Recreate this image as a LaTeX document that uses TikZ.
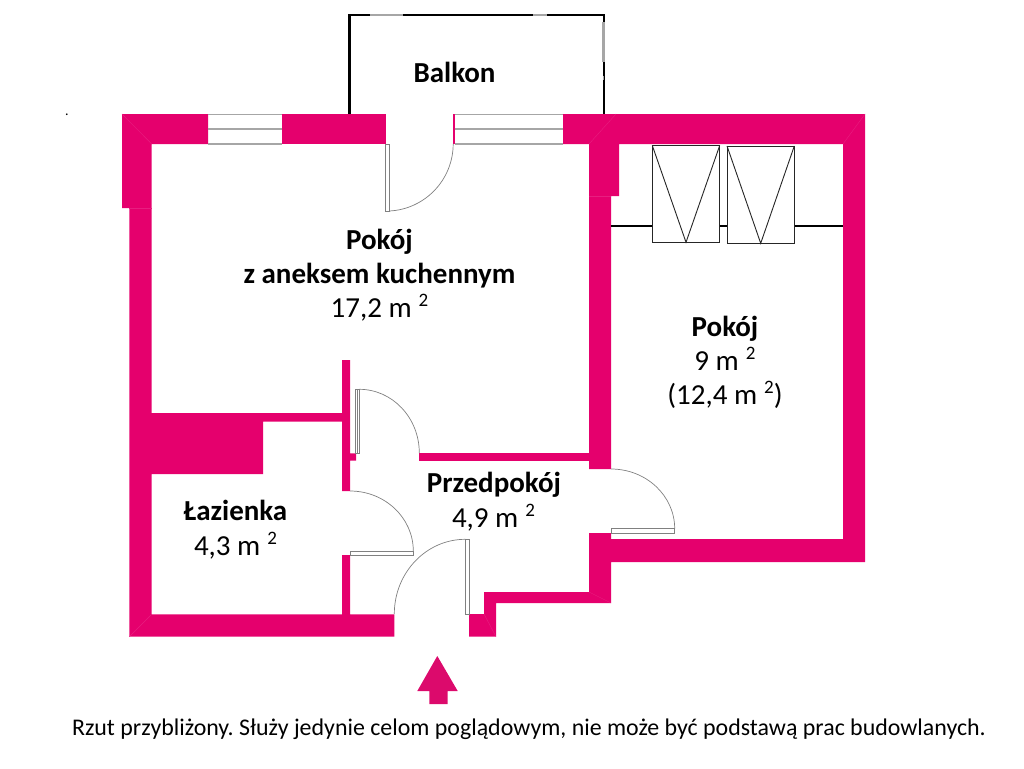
\documentclass[tikz,border=0pt]{standalone}
\usepackage{fontspec}
\setmainfont{Carlito}
\frenchspacing
\definecolor{wallpink}{HTML}{E5006D}
\definecolor{arrowpink}{HTML}{DC0A6C}
\definecolor{mitre}{HTML}{E81E80}
\definecolor{wingray}{HTML}{A6A6A6}
\definecolor{doorgray}{HTML}{808080}
\newcommand{\sqm}{\hspace{7pt}\raisebox{10.5pt}{\fontsize{19}{21}\selectfont 2}}
\newcommand{\lbl}{\fontsize{29}{33}\selectfont}
\tikzset{
  x=1pt,y=-1pt,
  wall/.style={fill=wallpink,draw=none},
  mitreline/.style={draw=mitre,line width=0.4pt},
  winline/.style={draw=wingray,line width=1.4pt},
  doorline/.style={draw=doorgray,line width=0.7pt,fill=white},
  balc/.style={draw=black,line width=2.4pt},
  balcgap/.style={draw=wingray,line width=2.4pt},
  fitted/.style={draw=black!85,line width=0.9pt,fill=white},
  roomname/.style={font=\lbl\bfseries,inner sep=0pt,anchor=base},
  roomarea/.style={font=\lbl,inner sep=0pt,anchor=base},
}
\begin{document}
\begin{tikzpicture}
\useasboundingbox (0,0) rectangle (1024,768);
% balcony
\draw[balc] (349.5,114) -- (349.5,15) -- (604,15) -- (604,114);
\draw[balcgap] (370,15) -- (403,15);
\draw[balcgap] (533,15) -- (547,15);
\draw[balcgap] (603.5,22) -- (603.5,62);
\draw[draw=wingray,line width=1pt] (603.5,76) -- (603.5,80);
% top wall and left wall
\fill[wall] (122,114) -- (208,114) -- (208,144) -- (151.7,144) -- (151.7,413) -- (342,413) -- (342,360) -- (350,360)
  -- (350,453.3) -- (356,453.3) -- (356,460.7) -- (350,460.7) -- (350,491) -- (342,491) -- (342,421.7) -- (263,421.7)
  -- (263,474) -- (151.7,474) -- (151.7,614.3) -- (342,614.3) -- (342,555) -- (350,555) -- (350,614.3) -- (394.3,614.3)
  -- (394.3,636.7) -- (129.3,636.7) -- (129.3,208) -- (122,208) -- cycle;
\fill[wall] (282,114) rectangle (385.7,144);
\fill[wall] (453,114) rectangle (454.5,144);
\fill[wall] (563,114) -- (865,114) -- (865,562) -- (611,562) -- (611,603) -- (496,603) -- (496,636.7) -- (469,636.7)
  -- (469,614) -- (484,614) -- (484,592) -- (589,592) -- (589,533) -- (611,533) -- (611,539) -- (843,539) -- (843,144)
  -- (619,144) -- (619,196) -- (611,196) -- (611,469) -- (589,469) -- (589,144) -- (563,144) -- cycle;
\fill[wall] (419.3,453.3) rectangle (589,460.7);
% mitres
\draw[mitreline] (122,114) -- (151.7,144);
\draw[mitreline] (865,114) -- (843,144);
\draw[mitreline] (616,114) -- (589,144);
\draw[mitreline] (129.3,636.7) -- (151.7,614.3);
\draw[mitreline] (496,636.7) -- (484,614);
\draw[mitreline] (611,603) -- (589,592);
\draw[mitreline] (129.3,208) -- (151.7,208);
\draw[mitreline] (589,196) -- (611,196);
% windows
\foreach \xa/\xb in {208/282,454.5/563}{
  \draw[winline] (\xa,114.5) -- (\xb,114.5);
  \draw[winline] (\xa,129) -- (\xb,129);
  \draw[winline] (\xa,144) -- (\xb,144);
}
% wardrobes
\draw[draw=black,line width=1.1pt] (611,226) -- (843,226);
\draw[fitted] (652.3,145.5) rectangle (719.7,242.3);
\draw[fitted,fill=none] (652.3,145.5) -- (686,242.3) -- (719.7,145.5);
\draw[fitted] (727,146) rectangle (794.3,243.3);
\draw[fitted,fill=none] (727,146) -- (760.7,243.3) -- (794.3,146);
% doors
\draw[doorline] (385.7,144) rectangle (389.5,211);
\draw[doorline,fill=none] (389.5,211) arc[start angle=87,end angle=0,radius=67.2];
\draw[doorline] (355.3,389.3) rectangle (359.3,453);
\draw[doorline,fill=none] (357.3,389.3) -- (357.3,453);
\draw[doorline,fill=none] (359.3,389.3) arc[start angle=-90,end angle=0,x radius=60,y radius=63.7];
\draw[doorline] (350,551) rectangle (413.3,555);
\draw[doorline,fill=none] (350,491) arc[start angle=-90,end angle=0,x radius=63.3,y radius=60];
\draw[doorline] (465.3,539.3) rectangle (469,614);
\draw[doorline,fill=none] (465.3,539.3) arc[start angle=-90,end angle=-180,x radius=71,y radius=74.7];
\draw[doorline] (611,528.7) rectangle (674.7,533);
\draw[doorline,fill=none] (611,469) arc[start angle=-90,end angle=0,x radius=63.7,y radius=59.7];
% entrance arrow
\fill[arrowpink] (437.3,656) -- (457.7,691) -- (447.7,691) -- (447.7,704) -- (429.3,704) -- (429.3,691) -- (417.3,691) -- cycle;
% labels
\node[inner sep=0pt,font=\fontsize{14}{16}\selectfont,anchor=base] (dot) at (67,115) {.};
\node[roomname] (balkon) at (454.5,82.5) {Balkon};
\node[roomname] (pokoj1) at (379.5,249) {Pokój};
\node[roomname] (pokoj2) at (379.5,283) {z aneksem kuchennym};
\node[roomarea] (pokoj3) at (379.5,317) {17,2 m\sqm};
\node[roomname] (pokojb) at (725,336) {Pokój};
\node[roomarea] (pokojc) at (725,370) {9 m\sqm};
\node[roomarea] (pokojd) at (725,404) {(12,4 m\sqm)};
\node[roomname] (laz1) at (235.5,520) {Łazienka};
\node[roomarea] (laz2) at (235.5,555) {4,3 m\sqm};
\node[roomname] (prz1) at (494,492) {Przedpokój};
\node[roomarea] (prz2) at (493.5,527) {4,9 m\sqm};
\node[inner sep=0pt,font=\fontsize{23.9}{27}\selectfont,anchor=base] (note) at (529,735) {Rzut przybliżony. Służy jedynie celom poglądowym, nie może być podstawą prac budowlanych.};
\end{tikzpicture}
\end{document}
